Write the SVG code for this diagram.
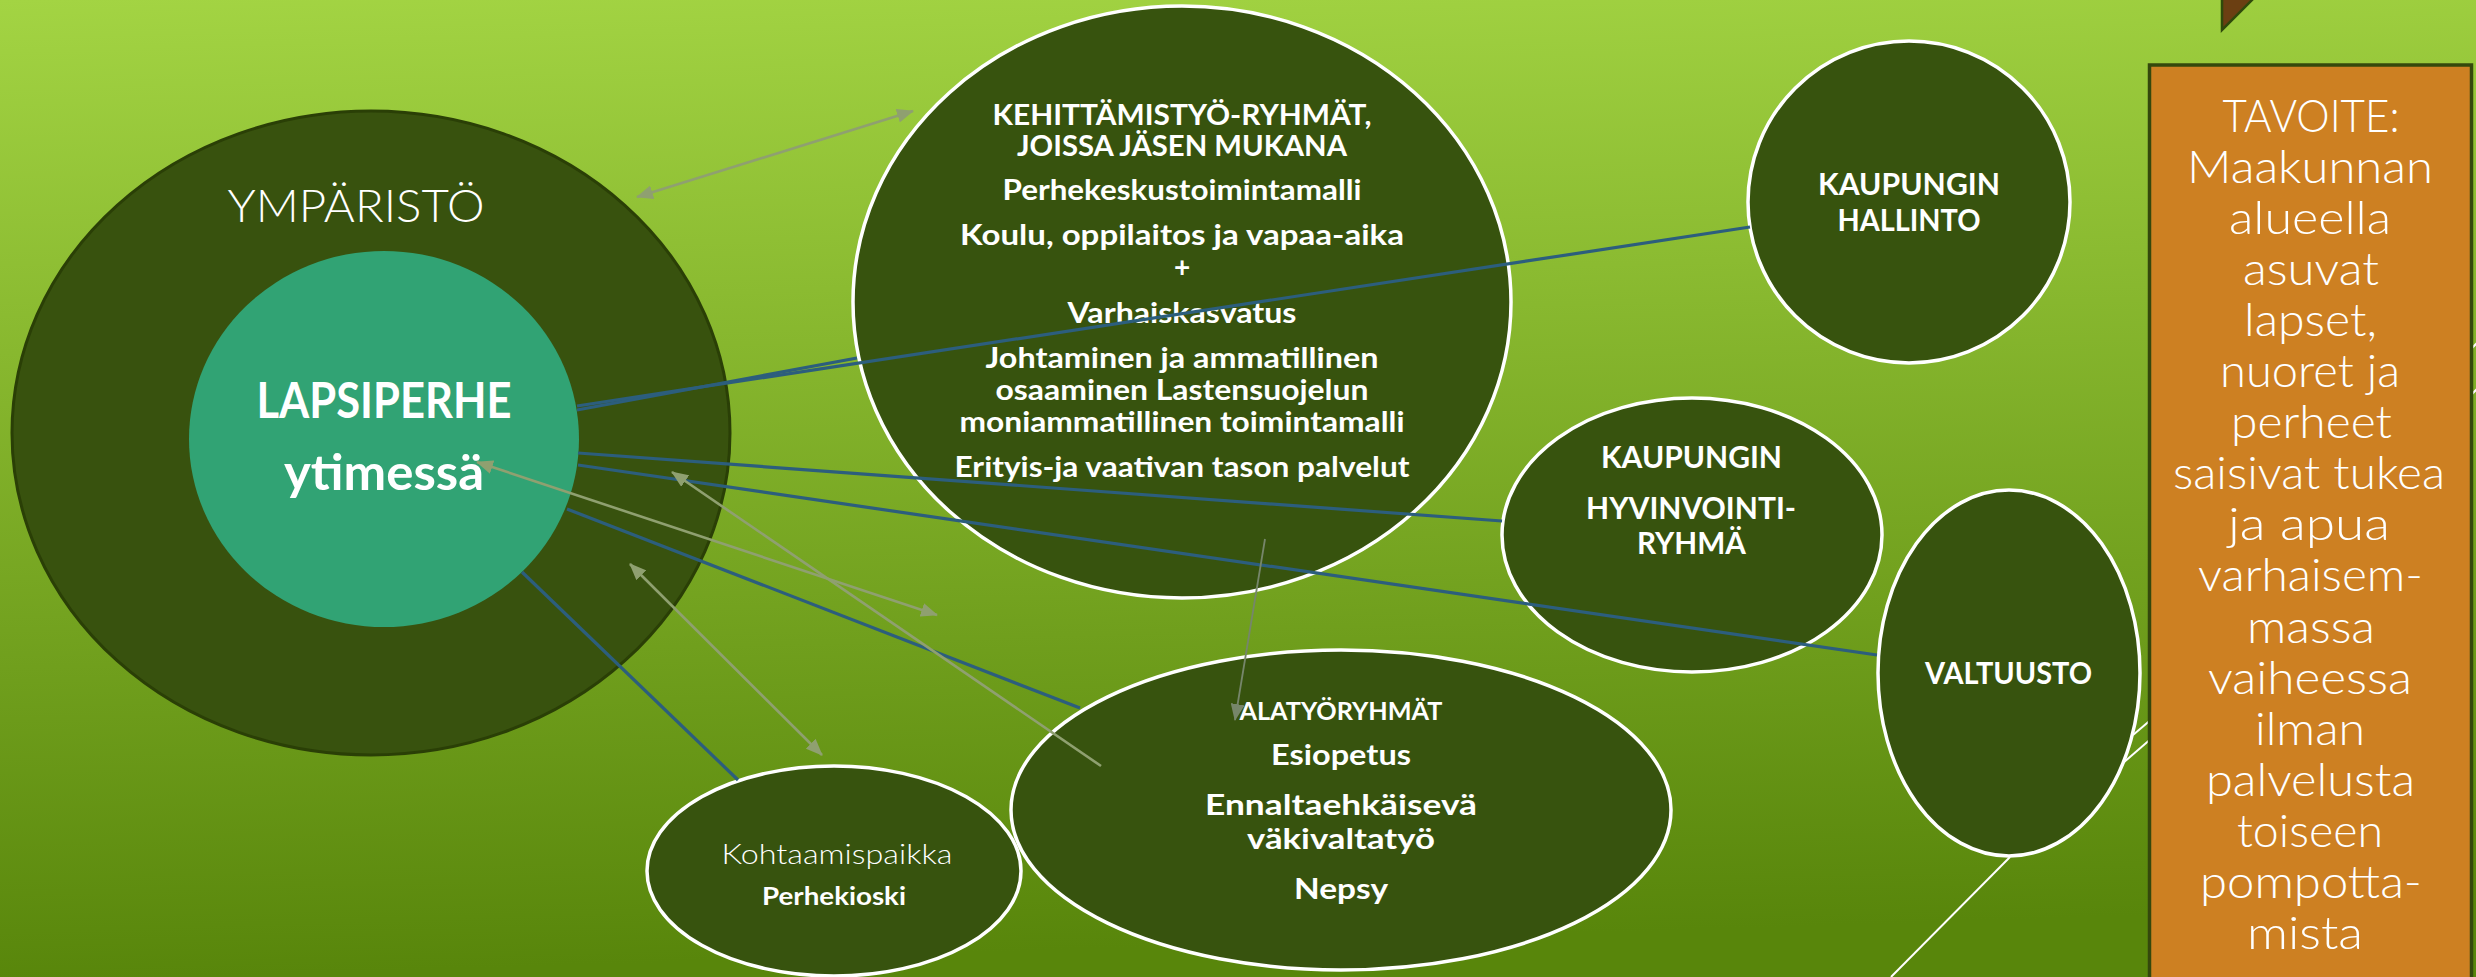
<svg xmlns="http://www.w3.org/2000/svg" width="2476" height="977" viewBox="0 0 2476 977">
<defs>
<linearGradient id="bg" x1="0" y1="0" x2="0.08" y2="1">
<stop offset="0" stop-color="#a3d443"/>
<stop offset="1" stop-color="#58860b"/>
</linearGradient>
<marker id="ah" markerUnits="userSpaceOnUse" markerWidth="18" markerHeight="14" refX="16" refY="7" orient="auto-start-reverse">
<path d="M0,0 L17,7 L0,14 z" fill="#8fa070"/>
</marker>
<marker id="ah2" markerUnits="userSpaceOnUse" markerWidth="18" markerHeight="14" refX="16" refY="7" orient="auto">
<path d="M0,0 L17,7 L0,14 z" fill="#76866a"/>
</marker>
<style>
.node{fill:#37530e;stroke:#ffffff;stroke-width:3.5}
.t{font-family:Lato,"Open Sans","Liberation Sans",sans-serif;fill:#ffffff;text-anchor:middle}
.b{font-weight:700}
.l{font-weight:300}
.blue{stroke:#2c5e7d;stroke-width:3.2;fill:none}
.gray{stroke:#8fa070;stroke-width:2.6;fill:none}
.white{stroke:#ffffff;stroke-width:2;fill:none}
.o{font-size:46px;font-weight:300}
</style>
</defs>
<rect x="0" y="0" width="2476" height="977" fill="url(#bg)"/>
<polygon points="2222,-4 2222,30 2256,-4" fill="#6b3f12" stroke="#2f4a0a" stroke-width="2.5"/>

<g id="ymparisto">
<ellipse cx="371" cy="433" rx="359" ry="322" fill="#38520e" stroke="#2a3f06" stroke-width="3"/>
<text class="t l" x="356" y="222" font-size="46" textLength="257" lengthAdjust="spacingAndGlyphs">YMPÄRISTÖ</text>
</g>
<g id="lapsiperhe">
<ellipse cx="384" cy="439" rx="195" ry="188" fill="#31a374"/>
<text class="t b" x="384" y="418" font-size="49" textLength="255" lengthAdjust="spacingAndGlyphs">LAPSIPERHE</text>
<text class="t b" x="384" y="490" font-size="49" textLength="200" lengthAdjust="spacingAndGlyphs">ytimessä</text>
</g>
<g id="kehittamistyo">
<ellipse class="node" cx="1182" cy="302" rx="329" ry="296"/>
<text class="t b" x="1182" y="125" font-size="29" textLength="379" lengthAdjust="spacingAndGlyphs">KEHITTÄMISTYÖ-RYHMÄT,</text>
<text class="t b" x="1182" y="156" font-size="29" textLength="330" lengthAdjust="spacingAndGlyphs">JOISSA JÄSEN MUKANA</text>
<text class="t b" x="1182" y="200" font-size="28" textLength="359" lengthAdjust="spacingAndGlyphs">Perhekeskustoimintamalli</text>
<text class="t b" x="1182" y="245" font-size="28" textLength="444" lengthAdjust="spacingAndGlyphs">Koulu, oppilaitos ja vapaa-aika</text>
<text class="t b" x="1182" y="277" font-size="28">+</text>
<text class="t b" x="1182" y="323" font-size="28" textLength="229" lengthAdjust="spacingAndGlyphs">Varhaiskasvatus</text>
<text class="t b" x="1182" y="368" font-size="28" textLength="393" lengthAdjust="spacingAndGlyphs">Johtaminen ja ammatillinen</text>
<text class="t b" x="1182" y="400" font-size="28" textLength="373" lengthAdjust="spacingAndGlyphs">osaaminen Lastensuojelun</text>
<text class="t b" x="1182" y="432" font-size="28" textLength="445" lengthAdjust="spacingAndGlyphs">moniammatillinen toimintamalli</text>
<text class="t b" x="1182" y="477" font-size="28" textLength="455" lengthAdjust="spacingAndGlyphs">Erityis-ja vaativan tason palvelut</text>
</g>
<g id="hallinto">
<ellipse class="node" cx="1909" cy="202" rx="161" ry="161"/>
<text class="t b" x="1909" y="195" font-size="30" textLength="182" lengthAdjust="spacingAndGlyphs">KAUPUNGIN</text>
<text class="t b" x="1909" y="231" font-size="30" textLength="143" lengthAdjust="spacingAndGlyphs">HALLINTO</text>
</g>
<g id="hyvinvointi">
<ellipse class="node" cx="1692" cy="535" rx="190" ry="137"/>
<text class="t b" x="1691.5" y="468" font-size="30" textLength="181" lengthAdjust="spacingAndGlyphs">KAUPUNGIN</text>
<text class="t b" x="1691" y="519" font-size="30" textLength="210" lengthAdjust="spacingAndGlyphs">HYVINVOINTI-</text>
<text class="t b" x="1691.5" y="554" font-size="30" textLength="109" lengthAdjust="spacingAndGlyphs">RYHMÄ</text>
</g>
<g id="valtuusto">
<ellipse class="node" cx="2009" cy="673" rx="131" ry="183"/>
<text class="t b" x="2008.5" y="684" font-size="30" textLength="167" lengthAdjust="spacingAndGlyphs">VALTUUSTO</text>
</g>
<g id="alatyoryhmat">
<ellipse class="node" cx="1341" cy="810" rx="330" ry="160"/>
<text class="t b" x="1341" y="720" font-size="24" textLength="203" lengthAdjust="spacingAndGlyphs">ALATYÖRYHMÄT</text>
<text class="t b" x="1341" y="765" font-size="29" textLength="140" lengthAdjust="spacingAndGlyphs">Esiopetus</text>
<text class="t b" x="1341" y="815" font-size="29" textLength="272" lengthAdjust="spacingAndGlyphs">Ennaltaehkäisevä</text>
<text class="t b" x="1341" y="849" font-size="29" textLength="188" lengthAdjust="spacingAndGlyphs">väkivaltatyö</text>
<text class="t b" x="1341" y="899" font-size="29" textLength="94" lengthAdjust="spacingAndGlyphs">Nepsy</text>
</g>
<g id="kohtaamispaikka">
<ellipse class="node" cx="834" cy="871" rx="187" ry="105"/>
<text class="t l" x="837" y="864" font-size="28" textLength="231" lengthAdjust="spacingAndGlyphs">Kohtaamispaikka</text>
<text class="t b" x="834" y="905" font-size="25" textLength="144" lengthAdjust="spacingAndGlyphs">Perhekioski</text>
</g>

<g id="connectors">
<line class="blue" x1="577" y1="410" x2="857" y2="358"/>
<line class="blue" x1="577" y1="406" x2="1750" y2="227"/>
<line class="blue" x1="578" y1="453" x2="1502" y2="521"/>
<line class="blue" x1="578" y1="465" x2="1877" y2="655"/>
<line class="blue" x1="567" y1="509" x2="1080" y2="708"/>
<line class="blue" x1="522" y1="572" x2="738" y2="780"/>
<line class="gray" x1="637" y1="197" x2="913" y2="111" marker-start="url(#ah)" marker-end="url(#ah)"/>
<line class="gray" x1="477" y1="462" x2="937" y2="615" marker-start="url(#ah)" marker-end="url(#ah)"/>
<line class="gray" x1="1101" y1="766" x2="672" y2="472" marker-end="url(#ah)"/>
<line class="gray" x1="630" y1="564" x2="822" y2="755" marker-start="url(#ah)" marker-end="url(#ah)"/>
<line stroke="#76866a" stroke-width="1.8" x1="1265" y1="539" x2="1235" y2="720" marker-end="url(#ah2)"/>
<line class="white" x1="2010" y1="857" x2="1891" y2="977"/>
<line class="white" x1="2133" y1="735" x2="2160" y2="712"/>
<line class="white" x1="2123" y1="763" x2="2160" y2="731"/>
<line class="white" x1="2468" y1="352" x2="2480" y2="340"/>
<line class="white" x1="2468" y1="398" x2="2480" y2="386"/>
</g>

<g id="tavoite">
<rect x="2149.5" y="65" width="322" height="930" fill="#cd8022" stroke="#34480c" stroke-width="3.5"/>
<text class="t o" x="2311" y="132" textLength="177" lengthAdjust="spacingAndGlyphs">TAVOITE:</text>
<text class="t o" x="2310" y="183" textLength="246" lengthAdjust="spacingAndGlyphs">Maakunnan</text>
<text class="t o" x="2310" y="234" textLength="162" lengthAdjust="spacingAndGlyphs">alueella</text>
<text class="t o" x="2311" y="285" textLength="136" lengthAdjust="spacingAndGlyphs">asuvat</text>
<text class="t o" x="2310.5" y="336" textLength="133" lengthAdjust="spacingAndGlyphs">lapset,</text>
<text class="t o" x="2310" y="387" textLength="180" lengthAdjust="spacingAndGlyphs">nuoret ja</text>
<text class="t o" x="2311.5" y="438" textLength="161" lengthAdjust="spacingAndGlyphs">perheet</text>
<text class="t o" x="2309" y="489" textLength="272" lengthAdjust="spacingAndGlyphs">saisivat tukea</text>
<text class="t o" x="2309" y="540" textLength="162" lengthAdjust="spacingAndGlyphs">ja apua</text>
<text class="t o" x="2310.5" y="591" textLength="225" lengthAdjust="spacingAndGlyphs">varhaisem-</text>
<text class="t o" x="2311" y="643" textLength="128" lengthAdjust="spacingAndGlyphs">massa</text>
<text class="t o" x="2310" y="694" textLength="204" lengthAdjust="spacingAndGlyphs">vaiheessa</text>
<text class="t o" x="2310" y="745" textLength="110" lengthAdjust="spacingAndGlyphs">ilman</text>
<text class="t o" x="2310.5" y="796" textLength="209" lengthAdjust="spacingAndGlyphs">palvelusta</text>
<text class="t o" x="2310" y="847" textLength="146" lengthAdjust="spacingAndGlyphs">toiseen</text>
<text class="t o" x="2311" y="898" textLength="222" lengthAdjust="spacingAndGlyphs">pompotta-</text>
<text class="t o" x="2305" y="949" textLength="116" lengthAdjust="spacingAndGlyphs">mista</text>
</g>
</svg>
